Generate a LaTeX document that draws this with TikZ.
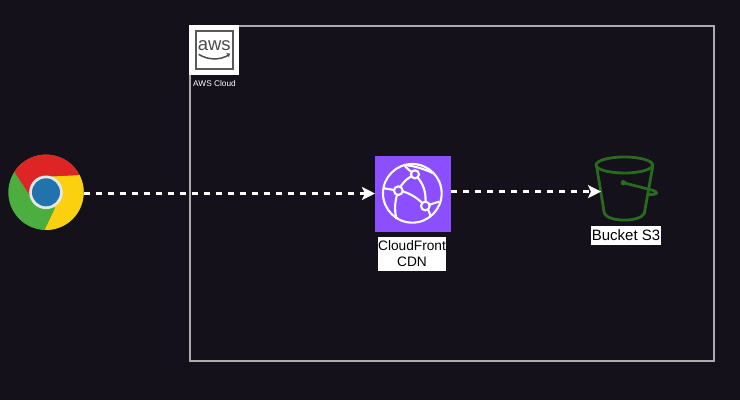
\documentclass[tikz,border=0pt]{standalone}
\usepackage{fontspec}
\setmainfont{Liberation Sans}
\usetikzlibrary{arrows.meta,calc}
\definecolor{bgc}{HTML}{14111A}
\definecolor{framec}{HTML}{ACACAC}
\definecolor{purp}{HTML}{8C4FFF}
\definecolor{bgreen}{HTML}{2A6A1E}
\definecolor{cred}{HTML}{DF2426}
\definecolor{cgreen}{HTML}{4BAE3F}
\definecolor{cyellow}{HTML}{FBD00F}
\definecolor{cblue}{HTML}{2272AE}
\definecolor{cring}{HTML}{E4E8E4}
\tikzset{
  flow/.style={draw=white,line width=2.7pt,dash pattern=on 6pt off 6pt,
    -{Stealth[length=13pt,width=13pt,inset=3pt]}},
  lbl/.style={fill=white,text=black,inner sep=0pt,align=center},
  cfline/.style={draw=white,line width=2.1pt},
  bkline/.style={draw=bgreen,line width=2.8pt,line cap=round,line join=round},
  hit/.style={inner sep=0pt,outer sep=0pt}
}
\begin{document}
\begin{tikzpicture}[x=1pt,y=-1pt]
\useasboundingbox (0,0) rectangle (740,400);
\fill[bgc] (0,0) rectangle (740,400);

% cloud frame
\node[hit,draw=framec,line width=1.2pt,minimum width=524pt,minimum height=335pt] (cloud) at (452,193.5) {};
\node[hit,fill=white,minimum width=50pt,minimum height=50pt] (awsicon) at (214.3,50) {};
\begin{scope}[shift={(180,15)},xscale=0.3333,yscale=0.3333]
  \draw[draw=black!65,line width=2pt] (47,48) rectangle (160,163);
  \draw[black!70,line width=1.5pt] (56,118) .. controls (85,136) and (120,136) .. (146,120);
  \fill[black!70] (150,116) -- (139,114) -- (147,127) -- cycle;
\end{scope}
\node[hit,text=black!70,font=\fontsize{18.5}{16}\selectfont] (awsword) at (214.3,45.5) {aws};
\node[hit,text=white,font=\fontsize{8.3}{10}\selectfont] (awslabel) at (214.5,84) {AWS Cloud};

% chrome
\node[hit,circle,minimum size=75.4pt] (chrome) at (46,192.3) {};
\begin{scope}[shift={(chrome.center)}]
  \fill[cgreen] (0,0) circle[radius=37.7];
  \fill[cred] (-147:37.7) arc[start angle=-147,end angle=-27,radius=37.7] -- (4,-15.7) -- (-14.3,6) -- cycle;
  \fill[cyellow] (-27:37.7) arc[start angle=-27,end angle=92,radius=37.7] -- (9,16) -- (4,-15.7) -- cycle;
  \fill[cring] (0,0) circle[radius=16.8];
  \fill[cblue] (0,0) circle[radius=14];
\end{scope}

% CloudFront
\node[hit,fill=purp,minimum width=76pt,minimum height=76pt] (cf) at (413,193.5) {};
\begin{scope}[shift={(365,145)},xscale=0.3333,yscale=0.3333]
  \draw[cfline] (142,145) circle[radius=88];
  \draw[cfline] (100,137) -- (57,130);
  \draw[cfline] (100,137) .. controls (110,115) and (125,100) .. (150,88);
  \draw[cfline] (150,88) .. controls (175,115) and (185,140) .. (181,183);
  \draw[cfline] (100,137) .. controls (130,140) and (160,160) .. (181,183);
  \draw[cfline] (100,137) .. controls (88,170) and (88,200) .. (95,222);
  \draw[cfline] (181,183) .. controls (195,200) and (198,215) .. (195,216);
  \draw[cfline] (150,88) .. controls (135,78) and (125,70) .. (118,60);
  \draw[cfline] (118,60) .. controls (140,62) and (170,68) .. (205,85);
  \draw[cfline] (181,183) -- (222,170);
  \filldraw[fill=purp,draw=white,line width=2.1pt] (150,88) circle[radius=12];
  \filldraw[fill=purp,draw=white,line width=2.1pt] (100,137) circle[radius=13];
  \filldraw[fill=purp,draw=white,line width=2.1pt] (181,183) circle[radius=13];
\end{scope}
\node[lbl,minimum width=68pt,minimum height=34pt,font=\fontsize{13.7}{16}\selectfont] (cflabel) at (412,254) {CloudFront\\CDN};

% bucket
\node[hit,minimum width=58pt,minimum height=66pt] (bucket) at (624,191.6) {};
\begin{scope}[shift={(570,145)},xscale=0.3333,yscale=0.3333]
  \draw[bkline] (163,60) ellipse[x radius=85,y radius=24];
  \draw[bkline] (80,65) -- (103,205) .. controls (115,232) and (210,232) .. (223,205) -- (248,65);
  \draw[bkline] (160,113) -- (245,135) .. controls (268,142) and (265,150) .. (236,148);
  \fill[bgreen] (160,113) circle[radius=8];
\end{scope}
\node[lbl,minimum width=70pt,minimum height=19pt,font=\fontsize{15}{16}\selectfont] (bklabel) at (626,235.5) {Bucket S3};

% connectors
\draw[flow] (chrome.east |- cf.west) -- (cf.west);
\draw[flow] (cf.east |- bucket.west) -- ($(bucket.west)+(6,0)$);
\end{tikzpicture}
\end{document}
